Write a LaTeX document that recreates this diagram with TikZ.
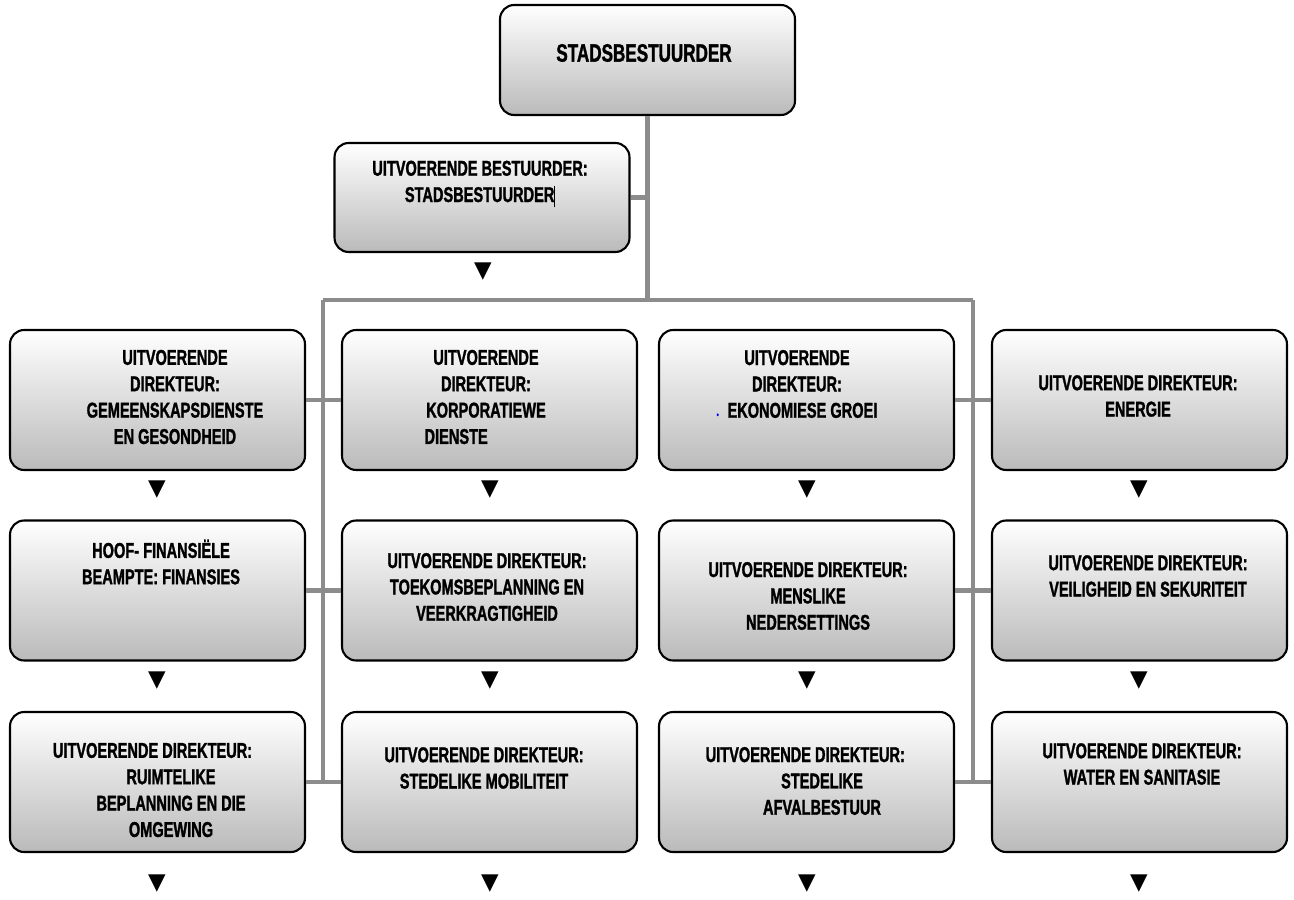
\documentclass[tikz,border=0pt]{standalone}
\usepackage{fontspec}
\setmainfont{Liberation Sans}[FakeStretch=0.68, BoldFeatures={FakeBold=1.3}]
\newfontfamily\symfont{DejaVu Sans}
\definecolor{linegray}{RGB}{140,140,140}
\tikzstyle{unitbox}=[draw=black, line width=1.2pt, rounded corners=8pt, top color=white, bottom color=black!27, minimum width=5.9cm, minimum height=2.8cm]
\tikzstyle{unittext}=[align=center, inner sep=0pt, font=\fontsize{12.2}{15}\selectfont\bfseries]
\tikzstyle{pointer}=[inner sep=0pt, font=\symfont\fontsize{13}{13}\selectfont]
\tikzstyle{link}=[draw=linegray, line width=2.3pt]

\begin{document}
\begin{tikzpicture}[x=0.02cm, y=-0.02cm]
   \useasboundingbox (0,0) rectangle (1294,899);

   % boxes
   \node[unitbox, minimum height=2.2cm] (top) at (647.5,60) {};
   \node[unitbox, minimum height=2.18cm] (exec) at (482,197.5) {};
   \node[unitbox] (gemeenskap) at (157.5,400) {};
   \node[unitbox] (korporatief) at (489.5,400) {};
   \node[unitbox] (ekonomie) at (806.5,400) {};
   \node[unitbox] (energie) at (1139.5,400) {};
   \node[unitbox] (finansies) at (157.5,590.5) {};
   \node[unitbox] (toekoms) at (489.5,590.5) {};
   \node[unitbox] (nedersetting) at (806.5,590.5) {};
   \node[unitbox] (veiligheid) at (1139.5,590.5) {};
   \node[unitbox] (ruimtelik) at (157.5,782) {};
   \node[unitbox] (mobiliteit) at (489.5,782) {};
   \node[unitbox] (afval) at (806.5,782) {};
   \node[unitbox] (water) at (1139.5,782) {};

   % texts
   \node[unittext, font=\fontsize{14.3}{15}\selectfont\bfseries] (top-t) at (644,53) {STADSBESTUURDER};
   \node[unittext] (exec-t) at (480,184) {UITVOERENDE BESTUURDER:\\STADSBESTUURDER\rule[-3pt]{0.4pt}{12pt}};
   \node[unittext] (gemeenskap-t) at (175,397) {UITVOERENDE\\DIREKTEUR:\\GEMEENSKAPSDIENSTE\\EN GESONDHEID};
   \node[unittext] (korporatief-t) at (486,397) {UITVOERENDE\\DIREKTEUR:\\KORPORATIEWE\\DIENSTE\hspace*{34pt}};
   \node[unittext] (ekonomie-t) at (797,384) {UITVOERENDE\\DIREKTEUR:\\{\color{blue}\fontsize{5}{5}\selectfont •}\hspace{5pt}EKONOMIESE GROEI};
   \node[unittext] (energie-t) at (1138,396) {UITVOERENDE DIREKTEUR:\\ENERGIE};
   \node[unittext] (finansies-t) at (161,562) {HOOF- FINANSIËLE\\BEAMPTE: FINANSIES};
   \node[unittext] (toekoms-t) at (487,587) {UITVOERENDE DIREKTEUR:\\TOEKOMSBEPLANNING EN\\VEERKRAGTIGHEID};
   \node[unittext] (nedersetting-t) at (808,596) {UITVOERENDE DIREKTEUR:\\MENSLIKE\\NEDERSETTINGS};
   \node[unittext] (veiligheid-t) at (1148,576) {UITVOERENDE DIREKTEUR:\\VEILIGHEID EN SEKURITEIT};
   \node[unittext] (ruimtelik-t) at (171,790) {UITVOERENDE DIREKTEUR:\hspace*{21pt}\\RUIMTELIKE\\BEPLANNING EN DIE\\OMGEWING};
   \node[unittext] (mobiliteit-t) at (484,768) {UITVOERENDE DIREKTEUR:\\STEDELIKE MOBILITEIT};
   \node[unittext] (afval-t) at (822,781) {UITVOERENDE DIREKTEUR:\hspace*{19pt}\\STEDELIKE\\AFVALBESTUUR};
   \node[unittext] (water-t) at (1142,764) {UITVOERENDE DIREKTEUR:\\WATER EN SANITASIE};

   % pointers
   \node[pointer] (exec-p) at (483,272) {▼};
   \foreach \x in {157,490,807,1139}
     \foreach \y in {490,681,884}
       \node[pointer] (p-\x-\y) at (\x,\y) {▼};

   % connectors
   \coordinate (busl) at (323,300);
   \coordinate (busr) at (973,300);
   \draw[link] (top.south) -- (top.south |- busl);
   \draw[link] (exec.east) -- (exec.east -| top.south);
   \draw[link] (busl) -- (busr);
   \draw[link] (busl) -- (ruimtelik.east -| busl);
   \draw[link] (busr) -- (afval.east -| busr);
   \draw[link] (gemeenskap) -- (korporatief);
   \draw[link] (finansies) -- (toekoms);
   \draw[link] (ruimtelik) -- (mobiliteit);
   \draw[link] (ekonomie) -- (energie);
   \draw[link] (nedersetting) -- (veiligheid);
   \draw[link] (afval) -- (water);
\end{tikzpicture}
\end{document}
